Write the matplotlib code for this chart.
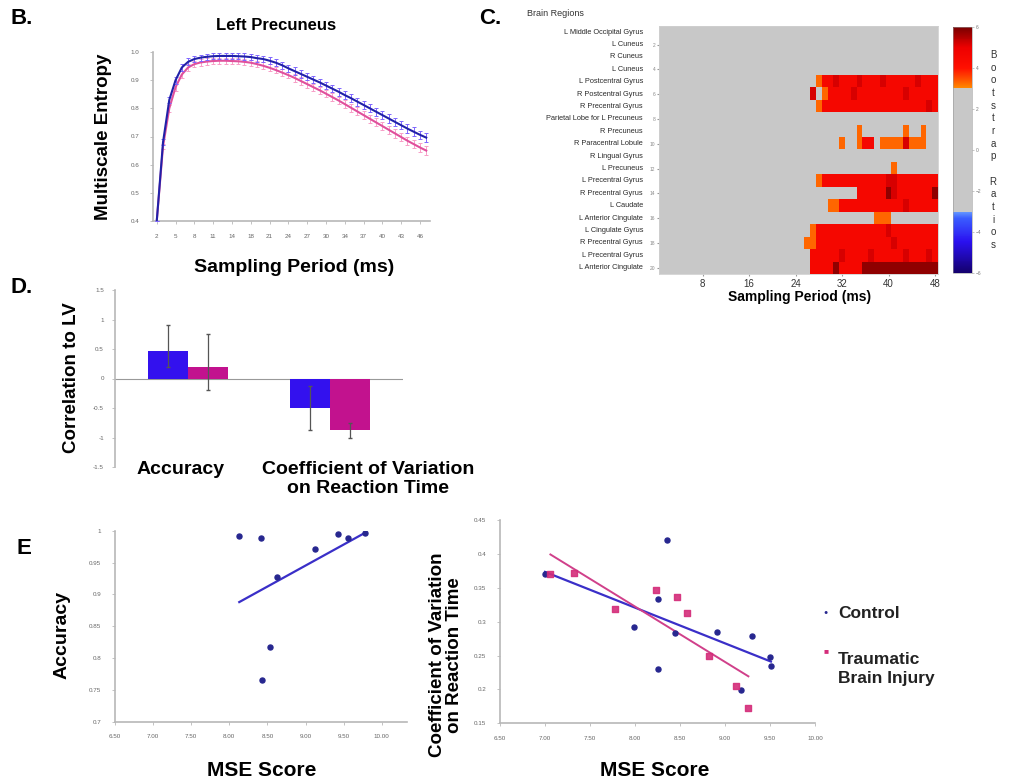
import numpy as np
import matplotlib
matplotlib.use("Agg")
import matplotlib.pyplot as plt
from matplotlib.colors import LinearSegmentedColormap, Normalize

plt.rcParams['font.family'] = ['Liberation Sans', 'DejaVu Sans']

# ---------------- data ----------------
# Panel B: multiscale entropy curves (Left Precuneus)
b_tick_labels = ['2', '5', '8', '11', '14', '18', '21', '24', '27', '30', '34', '37', '40', '43', '46']
b_control = [0.400, 0.680, 0.830, 0.900, 0.945, 0.965, 0.975, 0.980, 0.983, 0.985, 0.986,
             0.986, 0.986, 0.985, 0.984, 0.982, 0.978, 0.975, 0.969, 0.962, 0.953, 0.942,
             0.932, 0.922, 0.912, 0.902, 0.892, 0.881, 0.870, 0.859, 0.847, 0.836, 0.824,
             0.812, 0.800, 0.788, 0.776, 0.764, 0.752, 0.740, 0.728, 0.717, 0.706, 0.696]
b_tbi = [0.400, 0.665, 0.800, 0.875, 0.920, 0.945, 0.957, 0.963, 0.966, 0.968, 0.969,
         0.969, 0.968, 0.967, 0.965, 0.962, 0.957, 0.951, 0.944, 0.936, 0.927, 0.918,
         0.908, 0.897, 0.886, 0.875, 0.864, 0.852, 0.840, 0.828, 0.815, 0.802, 0.789,
         0.776, 0.763, 0.750, 0.737, 0.724, 0.711, 0.698, 0.685, 0.673, 0.661, 0.650]
b_control_err = [0.000, 0.010, 0.012, 0.012, 0.012, 0.012, 0.012, 0.011, 0.011, 0.011, 0.011,
                 0.011, 0.011, 0.011, 0.011, 0.011, 0.012, 0.012, 0.012, 0.012, 0.012, 0.012,
                 0.013, 0.013, 0.013, 0.013, 0.013, 0.013, 0.013, 0.014, 0.014, 0.014, 0.014,
                 0.014, 0.014, 0.014, 0.015, 0.015, 0.015, 0.015, 0.015, 0.015, 0.015, 0.015]
b_tbi_err = [0.000, 0.010, 0.012, 0.012, 0.012, 0.012, 0.011, 0.011, 0.011, 0.011, 0.011,
             0.011, 0.011, 0.011, 0.011, 0.011, 0.012, 0.012, 0.012, 0.012, 0.012, 0.012,
             0.013, 0.013, 0.013, 0.013, 0.013, 0.013, 0.013, 0.014, 0.014, 0.014, 0.014,
             0.014, 0.014, 0.014, 0.015, 0.015, 0.015, 0.015, 0.015, 0.015, 0.015, 0.015]

# Panel C: bootstrap ratios (rows = regions, 48 sampling-period columns)
c_regions = ['L Middle Occipital Gyrus', 'L Cuneus', 'R Cuneus', 'L Cuneus',
             'L Postcentral Gyrus', 'R Postcentral Gyrus', 'R Precentral Gyrus',
             'Parietal Lobe for L Precuneus', 'R Precuneus', 'R Paracentral Lobule',
             'R Lingual Gyrus', 'L Precuneus', 'L Precentral Gyrus', 'R Precentral Gyrus',
             'L Caudate', 'L Anterior Cingulate', 'L Cingulate Gyrus', 'R Precentral Gyrus',
             'L Precentral Gyrus', 'L Anterior Cingulate']
c_level_values = {'.': 0.0, 'o': 3.3, 'r': 4.5, 'R': 5.2, 'd': 5.8}
c_rows = [
    "........ ........ ........ ........ ........ ........",
    "........ ........ ........ ........ ........ ........",
    "........ ........ ........ ........ ........ ........",
    "........ ........ ........ ........ ........ ........",
    "........ ........ ........ ...orrRr rrRrrrRr rrrrRrrr",
    "........ ........ ........ ..R.orrr rRrrrrrr rrRrrrrr",
    "........ ........ ........ ...orrrr rrrrrrrr rrrrrrRr",
    "........ ........ ........ ........ ........ ........",
    "........ ........ ........ ........ ..o..... ..o..o..",
    "........ ........ ........ .......o ..orr.oo ooRooo..",
    "........ ........ ........ ........ ........ ........",
    "........ ........ ........ ........ ........ o.......",
    "........ ........ ........ ...orrrr rrrrrrrR Rrrrrrrr",
    "........ ........ ........ ........ ..rrrrrd Rrrrrrrd",
    "........ ........ ........ .....oor rrrrrrrr rrRrrrrr",
    "........ ........ ........ ........ .....ooo ........",
    "........ ........ ........ ..orrrrr rrrrrrrR rrrrrrrr",
    "........ ........ ........ .oorrrrr rrrrrrrr Rrrrrrrr",
    "........ ........ ........ ..rrrrrR rrrrRrrr rrRrrrRr",
    "........ ........ ........ ..rrrrdr rrrddddd dddddddd",
]
c_xticks = [8, 16, 24, 32, 40, 48]
c_cbar_ticks = [-6, -4, -2, 0, 2, 4, 6]

# Panel D: correlation to LV
d_categories = ['Accuracy', 'Coefficient of Variation\non Reaction Time']
d_control = [0.47, -0.50]
d_tbi = [0.19, -0.875]
d_control_lo = [0.27, 0.38]
d_control_hi = [0.44, 0.37]
d_tbi_lo = [0.38, 0.125]
d_tbi_hi = [0.57, 0.125]

# Panel E left: accuracy vs MSE score (control)
e1_x = [8.13, 8.42, 8.43, 8.53, 8.63, 9.12, 9.42, 9.56, 9.78]
e1_y = [0.992, 0.989, 0.765, 0.818, 0.928, 0.972, 0.995, 0.988, 0.996]

# Panel E right: CV of reaction time vs MSE score
e2_ctrl_x = [7.00, 8.36, 8.25, 7.99, 8.45, 8.91, 9.30, 8.26, 9.50, 9.51, 9.18]
e2_ctrl_y = [0.371, 0.420, 0.333, 0.292, 0.283, 0.285, 0.279, 0.230, 0.248, 0.234, 0.199]
e2_tbi_x = [7.06, 7.32, 7.78, 8.23, 8.47, 8.58, 8.82, 9.12, 9.26]
e2_tbi_y = [0.371, 0.372, 0.319, 0.346, 0.336, 0.313, 0.250, 0.205, 0.173]

mse_ticks = [6.5, 7.0, 7.5, 8.0, 8.5, 9.0, 9.5, 10.0]

# ---------------- style ----------------
BLUE_LINE = '#2121a8'
BLUE_ERR = '#7f66ff'
PINK_LINE = '#e0509c'
PINK_ERR = '#f7a0c8'
BAR_BLUE = '#3311ee'
BAR_PINK = '#c2128e'
DOT_BLUE = '#27278f'
DOT_PINK = '#d42d7a'
SPINE = '#b8b8b8'
TICKC = '#666666'

W, H = 1010, 783
fig = plt.figure(figsize=(W / 100, H / 100), dpi=100)


def add_ax(l, t, r, b):
    return fig.add_axes([l / W, 1 - b / H, (r - l) / W, (b - t) / H])


def ftext(x, y, s, **kw):
    kw.setdefault('ha', 'center')
    kw.setdefault('va', 'center')
    fig.text(x / W, 1 - y / H, s, **kw)


def light_axes(ax):
    for s in ['top', 'right']:
        ax.spines[s].set_visible(False)
    for s in ['left', 'bottom']:
        ax.spines[s].set_color(SPINE)
        ax.spines[s].set_linewidth(1.2)
    ax.tick_params(length=2, width=0.6, color=SPINE, labelsize=4.5, labelcolor=TICKC)


# ---------------- Panel B ----------------
axB = add_ax(153, 52, 430, 221)
xb = np.arange(len(b_control))
axB.errorbar(xb, b_tbi, yerr=b_tbi_err, color=PINK_LINE, ecolor=PINK_ERR, elinewidth=0.7,
             capsize=1.5, capthick=0.7, lw=1.5, zorder=2)
axB.errorbar(xb, b_control, yerr=b_control_err, color=BLUE_LINE, ecolor=BLUE_ERR, elinewidth=0.7,
             capsize=1.5, capthick=0.7, lw=1.5, zorder=3)
axB.set_xlim(-0.6, len(b_control) - 0.4)
axB.set_ylim(0.4, 1.0)
axB.set_xticks(xb[::3], b_tick_labels)
axB.set_yticks([0.4, 0.5, 0.6, 0.7, 0.8, 0.9, 1.0], ['0.4', '0.5', '0.6', '0.7', '0.8', '0.9', '1.0'])
light_axes(axB)
axB.tick_params(axis='x', pad=7)
axB.tick_params(axis='y', pad=8)
ftext(22, 18, 'B.', fontsize=16, fontweight='bold')
ftext(276, 26, 'Left Precuneus', fontsize=12, fontweight='bold')
ftext(104, 137, 'Multiscale Entropy', fontsize=13.5, fontweight='bold', rotation=90)
ftext(294, 268, 'Sampling Period (ms)', fontsize=14, fontweight='bold')

# ---------------- Panel C ----------------
heat = np.array([[c_level_values[ch] for ch in row.replace(' ', '')] for row in c_rows])
cmap = LinearSegmentedColormap.from_list('bsr', [
    (0.0, '#14006e'), (0.125, '#2a10f0'), (0.22, '#3a5cff'), (0.249, '#6aa0ff'),
    (0.25, '#c8c8c8'), (0.75, '#c8c8c8'), (0.751, '#ff9000'), (0.79, '#ff5000'),
    (0.833, '#ff1000'), (0.917, '#ee0000'), (1.0, '#7a0000')])
norm = Normalize(-6, 6)
axC = add_ax(659, 26, 938, 274)
im = axC.imshow(heat, cmap=cmap, norm=norm, aspect='auto', interpolation='nearest',
                extent=[0.5, heat.shape[1] + 0.5, len(c_regions) + 0.5, 0.5])
axC.set_xticks(c_xticks, [str(v) for v in c_xticks])
rows_idx = np.arange(1, len(c_regions) + 1)
axC.set_yticks(rows_idx[1::2], [str(v) for v in rows_idx[1::2]])
axC.tick_params(axis='y', labelsize=3.5, labelcolor='#888888', length=1.5, color='#999999', pad=1)
axC.tick_params(axis='x', labelsize=7, labelcolor='#333333', length=1.5, color='#999999', pad=2)
for s in axC.spines.values():
    s.set_color('#d0d0d0')
    s.set_linewidth(0.6)
for i, name in enumerate(c_regions):
    axC.text(-0.057, i + 1, name, transform=axC.get_yaxis_transform(), ha='right', va='center',
             fontsize=5.3, color='#2a2a2a')
ftext(490, 18, 'C.', fontsize=16, fontweight='bold')
ftext(555, 14, 'Brain Regions', fontsize=6.5, color='#333333')
ftext(800, 297, 'Sampling Period (ms)', fontsize=10, fontweight='bold')

cax = add_ax(953, 27, 972, 273)
cb = fig.colorbar(im, cax=cax, ticks=c_cbar_ticks)
cb.outline.set_linewidth(0.4)
cb.outline.set_edgecolor('#999999')
cax.tick_params(labelsize=3.5, labelcolor='#777777', length=1.5, width=0.4, color='#999999', pad=1)
ftext(993, 150, '\n'.join('Bootstrap Ratios'), fontsize=7, color='#333333', linespacing=1.33)

# ---------------- Panel D ----------------
axD = add_ax(115, 290, 403, 467)
bw = 1.0
centers = [1.825, 5.375]
xd = np.array(centers)
axD.bar(xd - bw / 2, d_control, width=bw, color=BAR_BLUE, zorder=2)
axD.bar(xd + bw / 2, d_tbi, width=bw, color=BAR_PINK, zorder=2)
axD.errorbar(xd - bw / 2, d_control, yerr=[d_control_lo, d_control_hi], fmt='none',
             ecolor='#555555', elinewidth=0.9, capsize=1.5, zorder=3)
axD.errorbar(xd + bw / 2, d_tbi, yerr=[d_tbi_lo, d_tbi_hi], fmt='none',
             ecolor='#555555', elinewidth=0.9, capsize=1.5, zorder=3)
axD.axhline(0, color='#999999', lw=0.8, zorder=1)
axD.set_xlim(0, 7.2)
axD.set_ylim(-1.5, 1.5)
axD.set_yticks([-1.5, -1, -0.5, 0, 0.5, 1, 1.5], ['-1.5', '-1', '-0.5', '0', '0.5', '1', '1.5'])
axD.set_xticks([])
light_axes(axD)
axD.spines['bottom'].set_visible(False)
axD.tick_params(axis='y', pad=6)
ftext(22, 287, 'D.', fontsize=16, fontweight='bold')
ftext(71, 378, 'Correlation to LV', fontsize=13.5, fontweight='bold', rotation=90)
ftext(181, 470, d_categories[0], fontsize=14, fontweight='bold')
ftext(368, 479, d_categories[1], fontsize=14, fontweight='bold', linespacing=1.12)

# ---------------- Panel E left ----------------
axE1 = add_ax(115, 530.7, 407, 721.7)
axE1.scatter(e1_x, e1_y, s=13, color=DOT_BLUE, zorder=3)
k1 = np.polyfit(e1_x, e1_y, 1)
xx1 = np.array([min(e1_x), max(e1_x)])
axE1.plot(xx1, np.polyval(k1, xx1), color='#3a2fc8', lw=1.6, zorder=2)
axE1.set_xlim(6.5, 10.33)
axE1.set_ylim(0.7, 1.0)
axE1.set_xticks(mse_ticks, ['%.2f' % v for v in mse_ticks])
axE1.set_yticks([0.7, 0.75, 0.8, 0.85, 0.9, 0.95, 1.0], ['0.7', '0.75', '0.8', '0.85', '0.9', '0.95', '1'])
light_axes(axE1)
axE1.tick_params(axis='x', pad=7)
axE1.tick_params(axis='y', pad=8)
ftext(24, 548, 'E', fontsize=16, fontweight='bold')
ftext(62, 635, 'Accuracy', fontsize=14, fontweight='bold', rotation=90)
ftext(262, 770, 'MSE Score', fontsize=15, fontweight='bold')

# ---------------- Panel E right ----------------
axE2 = add_ax(500, 520, 815, 723.3)
axE2.scatter(e2_ctrl_x, e2_ctrl_y, s=13, color=DOT_BLUE, zorder=3)
axE2.scatter(e2_tbi_x, e2_tbi_y, s=20, marker='s', color=DOT_PINK, zorder=3, alpha=0.9)
kc = np.polyfit(e2_ctrl_x, e2_ctrl_y, 1)
xc = np.array([min(e2_ctrl_x), max(e2_ctrl_x)])
axE2.plot(xc, np.polyval(kc, xc), color='#3a2fc8', lw=1.6, zorder=2)
kt = np.polyfit(e2_tbi_x, e2_tbi_y, 1)
xt = np.array([min(e2_tbi_x), max(e2_tbi_x)])
axE2.plot(xt, np.polyval(kt, xt), color='#d0408a', lw=1.4, zorder=2)
axE2.set_xlim(6.5, 10.0)
axE2.set_ylim(0.15, 0.45)
axE2.set_xticks(mse_ticks, ['%.2f' % v for v in mse_ticks])
axE2.set_yticks([0.15, 0.2, 0.25, 0.3, 0.35, 0.4, 0.45],
                ['0.15', '0.2', '0.25', '0.3', '0.35', '0.4', '0.45'])
light_axes(axE2)
axE2.tick_params(axis='x', pad=7)
axE2.tick_params(axis='y', pad=8)
ftext(446, 655, 'Coefficient of Variation\non Reaction Time', fontsize=13.5, fontweight='bold',
      rotation=90, linespacing=0.95)
ftext(655, 770, 'MSE Score', fontsize=15, fontweight='bold')

# legend
ftext(826, 613, '\u25cf', fontsize=5, color=DOT_BLUE)
ftext(838, 613, 'Control', fontsize=12.5, fontweight='bold', ha='left', color='#222222')
ftext(826, 652, '\u25a0', fontsize=6, color=DOT_PINK)
ftext(838, 669, 'Traumatic\nBrain Injury', fontsize=12.5, fontweight='bold', ha='left',
      color='#222222', linespacing=1.3)

fig.savefig('out.png', dpi=100)
